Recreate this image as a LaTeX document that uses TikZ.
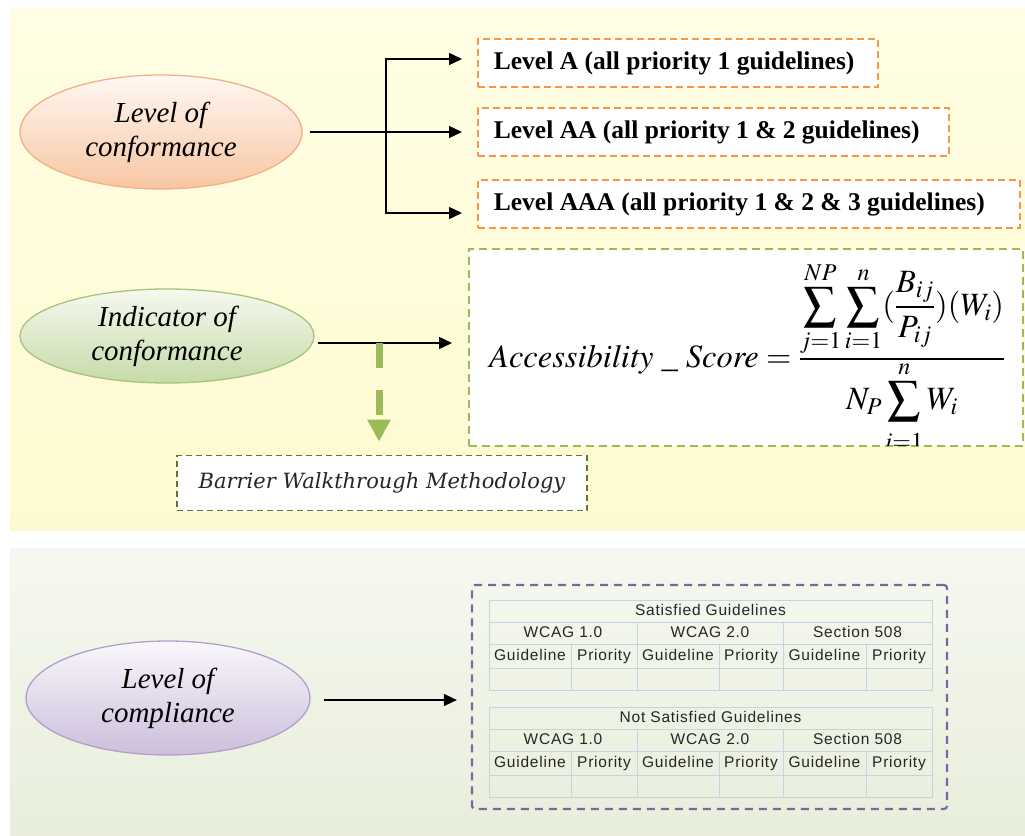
\documentclass[tikz,border=0pt]{standalone}
\usepackage{mathptmx}
\usepackage{fontspec}
\setmainfont{Liberation Serif}
\newfontfamily\tabfont[LetterSpace=5]{Liberation Sans}
\newfontfamily\barfont{DejaVu Serif}
\usetikzlibrary{shapes.geometric,arrows.meta}
\definecolor{orangeD}{HTML}{F79646}
\definecolor{greenD}{HTML}{9BBB59}
\definecolor{oliveD}{HTML}{5F7530}
\definecolor{purpleD}{HTML}{8064A2}
\definecolor{gridC}{HTML}{C9D1E2}
\definecolor{panYa}{HTML}{FFFEE4}
\definecolor{panYb}{HTML}{FEFAD0}
\definecolor{panGa}{HTML}{F5F8F0}
\definecolor{panGb}{HTML}{E8EEDB}
\definecolor{ellOa}{HTML}{FFF8F3}
\definecolor{ellOb}{HTML}{F8C6A2}
\definecolor{ellOd}{HTML}{F2B088}
\definecolor{ellGa}{HTML}{F6F9F0}
\definecolor{ellGb}{HTML}{C6DAA8}
\definecolor{ellGd}{HTML}{A6C47C}
\definecolor{ellPa}{HTML}{F9F7FB}
\definecolor{ellPb}{HTML}{CCBEDC}
\definecolor{ellPd}{HTML}{B3A0CA}
\newcommand\gtable[2]{%
  \draw[gridline] (489,600) rectangle (932,690);
  \draw[gridline] (489,622) -- (932,622) (489,644) -- (932,644) (489,668) -- (932,668);
  \draw[gridline] (637,622) -- (637,690) (783,622) -- (783,690);
  \draw[gridline] (571,644) -- (571,690) (719,644) -- (719,690) (866,644) -- (866,690);
  \node[tcell] (#1t) at (710.5,611) {#2};
  \node[tcell] (#1a) at (563,633) {WCAG 1.0};
  \node[tcell] (#1b) at (710,633) {WCAG 2.0};
  \node[tcell] (#1c) at (857.5,633) {Section 508};
  \node[tcell] (#1ga) at (530,656) {Guideline};
  \node[tcell] (#1pa) at (604,656) {Priority};
  \node[tcell] (#1gb) at (678,656) {Guideline};
  \node[tcell] (#1pb) at (751,656) {Priority};
  \node[tcell] (#1gc) at (824.5,656) {Guideline};
  \node[tcell] (#1pc) at (899,656) {Priority};
}
\begin{document}
\begin{tikzpicture}[x=1pt,y=-1pt,
  oval/.style={ellipse, line width=1.3pt, align=center, inner sep=0pt,
    font=\fontsize{29}{34}\selectfont\itshape},
  lvl/.style={draw=orangeD, dash pattern=on 7pt off 4pt, line width=1.8pt, fill=white,
    anchor=west, minimum height=48pt, inner xsep=16pt, inner ysep=0pt,
    font=\fontsize{25.5}{29}\selectfont\bfseries},
  blk/.style={line width=1.4pt, -{Triangle[length=13pt,width=12pt]}},
  gridline/.style={draw=gridC, line width=1pt},
  tcell/.style={font=\tabfont\fontsize{15.5}{18}\selectfont, text=black!85, inner sep=0pt,
    text height=11pt, text depth=3pt},
]
\useasboundingbox (0,0) rectangle (1025,835);
\fill[white] (0,0) rectangle (1025,835);
\shade[top color=panYa, bottom color=panYb] (10,7) rectangle (1025,530);
\shade[shading=axis, shading angle=30, top color=panGa, bottom color=panGb] (10,548) rectangle (1025,835);

% ellipses
\node[oval, top color=ellOa, bottom color=ellOb, draw=ellOd,
  minimum width=282pt, minimum height=114pt] (e1) at (161,132) {Level of\\conformance};
\node[oval, top color=ellGa, bottom color=ellGb, draw=ellGd,
  minimum width=294pt, minimum height=94pt] (e2) at (167,336) {Indicator of\\conformance};
\node[oval, top color=ellPa, bottom color=ellPb, draw=ellPd,
  minimum width=284pt, minimum height=114pt] (e3) at (168,698) {Level of\\compliance};

% level boxes
\node[lvl] (la) at (477,63) {\makebox[368pt][l]{Level A (all priority 1 guidelines)}};
\node[lvl] (lb) at (477,132) {\makebox[439pt][l]{Level AA (all priority 1 \& 2 guidelines)}};
\node[lvl] (lc) at (477,204) {\makebox[510pt][l]{Level AAA (all priority 1 \& 2 \& 3 guidelines)}};

% branch arrows
\coordinate (j1) at (386,132);
\draw[blk] ([xshift=7pt]e1.east) -- ([xshift=-15pt]lb.west);
\draw[blk] (j1) |- ([xshift=-15pt,yshift=4pt]la.west);
\draw[blk] (j1) |- ([xshift=-15pt,yshift=-9pt]lc.west);

% formula box
\node[draw=greenD, dash pattern=on 8pt off 5pt, line width=1.8pt, fill=white,
  anchor=north west, minimum width=554pt, minimum height=197pt, inner sep=0pt] (fb) at (468,248) {};
\begin{scope}
\clip ([shift={(1pt,-1pt)}]fb.north west) rectangle ([shift={(-1pt,1pt)}]fb.south east);
\node[anchor=base west, inner sep=0pt, font=\fontsize{32.5}{38}\selectfont] (fm) at (489,367)
  {$\mathit{Accessibility}\ \_\ \mathit{Score}=\frac{\displaystyle\sum_{j=1}^{NP}\sum_{i=1}^{n}({\displaystyle\frac{B_{ij}}{P_{ij}}})(W_i)}{\displaystyle N_P\sum_{\raisebox{-9pt}{$\scriptstyle i=1$}}^{n}W_i}$};
\end{scope}

% barrier box
\node[draw=oliveD, dash pattern=on 6pt off 4pt, line width=1.8pt, fill=white,
  minimum width=410pt, minimum height=55pt, inner sep=0pt,
  font=\barfont\itshape\fontsize{21}{25}\selectfont, text=black!85] (bw) at (382,483)
  {Barrier Walkthrough Methodology};

% indicator arrows
\coordinate (sp) at (379,343);
\path ([xshift=-16pt]fb.west) coordinate (fbw);
\draw[blk] ([xshift=3pt,yshift=-7pt]e2.east) -- (fbw |- sp);
\draw[draw=greenD, line width=7pt, dash pattern=on 25pt off 22pt,
  -{Triangle[length=22pt,width=22pt,fill=greenD]}, shorten >=13pt] (sp) -- (sp |- bw.north);

% compliance
\node[draw=purpleD, dash pattern=on 8pt off 6pt, line width=2.2pt, rounded corners=3pt,
  minimum width=475pt, minimum height=224pt, inner sep=0pt] (pb) at (709.5,697) {};
\draw[blk] ([xshift=13pt,yshift=-2pt]e3.east) -- ([xshift=-14pt,yshift=-3pt]pb.west);
\gtable{s}{Satisfied Guidelines}
\begin{scope}[shift={(0,107)}]
\gtable{n}{Not Satisfied Guidelines}
\end{scope}
\end{tikzpicture}
\end{document}
